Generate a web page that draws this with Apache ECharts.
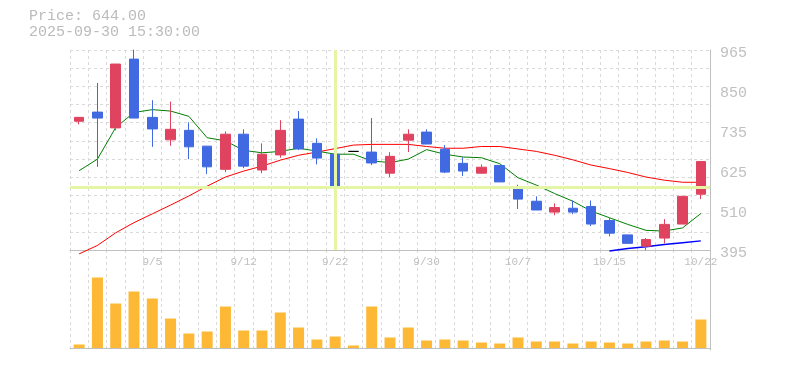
<!DOCTYPE html>
<html>
<head>
<meta charset="utf-8">
<script src="https://cdn.jsdelivr.net/npm/echarts@6/dist/echarts.min.js"></script>
<style>
html,body{margin:0;padding:0;background:#fff;}
#c{width:785px;height:370px;}
</style>
</head>
<body>
<div id="c"></div>
<script>
const categories = ['9/1','9/2','9/3','9/4','9/5','9/8','9/9','9/10','9/11','9/12','9/16','9/17','9/18','9/19','9/22','9/24','9/25','9/26','9/29','9/30','10/1','10/2','10/3','10/6','10/7','10/8','10/9','10/10','10/14','10/15','10/16','10/17','10/20','10/21','10/22'];
const opens  = [762,788,743,939,773,709,736,691,625,725,623,666,768,699,668,676,674,614,708,731,682,642,614,636,573,534,503,514,519,479,438,406,429,469,554];
const closes = [773,771,925,771,740,739,689,632,725,634,668,736,683,657,574,676,643,662,725,697,617,620,631,589,540,509,516,503,469,443,414,425,468,548,647];
const lows   = [753,632,736,771,689,692,654,612,617,628,614,658,680,639,566,676,637,603,674,697,614,606,612,589,512,509,494,497,463,434,414,394,414,469,540];
const highs  = [774,871,925,966,822,818,759,691,733,739,699,765,791,713,672,676,771,674,739,739,694,659,639,636,581,548,528,536,536,486,438,429,483,548,648];
const volumes = [35,705,445,565,495,295,145,165,415,175,175,355,205,85,115,25,415,105,205,75,85,75,55,45,105,65,65,45,65,55,45,65,75,65,285];
const ma5  = [621,654,744,787,795,791,776,715,706,679,672,676,685,677,668,668,649,644,654,681,668,660,658,641,601,580,556,534,506,487,468,451,449,458,499];
const ma25 = [384,408,444,473,498,523,549,577,603,620,634,651,665,674,684,694,696,696,696,690,685,685,690,690,683,676,665,652,637,627,616,603,594,588,588];
const ma75 = [null,null,null,null,null,null,null,null,null,null,null,null,null,null,null,null,null,null,null,null,null,null,null,null,null,null,null,null,null,392,399,404,411,416,421];
const yTickLabels = ['395','510','625','735','850','965'];
const priceMin = 395, priceMax = 965;
const cursorIndex = 14;
const headerPrice = 'Price: 644.00';
const headerDate = '2025-09-30 15:30:00';

const FONT = 'Liberation Mono';
const GRAY = '#c0c0c0';
const GRID_LINE = { show: true, lineStyle: { color: '#d9d9d9', type: [3, 3], width: 1 } };

const candleData = categories.map((c, i) => [opens[i], closes[i], lows[i], highs[i]]);

const chart = echarts.init(document.getElementById('c'), null, { renderer: 'canvas' });
chart.setOption({
  animation: false,
  backgroundColor: '#fff',
  title: {
    text: headerPrice + '\n' + headerDate,
    left: 29, top: 8, padding: 0,
    textStyle: { fontFamily: FONT, fontSize: 15, fontWeight: 'normal', color: '#bbbbbb', lineHeight: 16 }
  },
  grid: [
    { left: 70, top: 50, width: 640, height: 200 },
    { left: 70, top: 250, width: 640, height: 100 }
  ],
  xAxis: [
    {
      type: 'category', gridIndex: 0, data: categories, boundaryGap: true,
      axisLine: { show: true, lineStyle: { color: GRAY, width: 1 } },
      axisTick: { show: false },
      axisLabel: {
        interval: (i) => i % 5 === 4, color: GRAY, fontFamily: FONT, fontSize: 11, margin: 7,
        hideOverlap: false
      },
      splitLine: Object.assign({ interval: 0 }, GRID_LINE)
    },
    {
      type: 'category', gridIndex: 1, data: categories, boundaryGap: true,
      axisLine: { show: true, lineStyle: { color: GRAY, width: 1 } },
      axisTick: { show: false },
      axisLabel: { show: false },
      splitLine: Object.assign({ interval: 0 }, GRID_LINE)
    }
  ],
  yAxis: [
    {
      type: 'value', gridIndex: 0, min: priceMin, max: priceMax, position: 'right',
      axisLine: { show: true, lineStyle: { color: GRAY, width: 1 } },
      axisTick: { show: false }, axisLabel: { show: false }, splitLine: { show: false }
    },
    {
      type: 'value', gridIndex: 0, min: 0, max: 11, interval: 1, position: 'left',
      axisLine: { show: false }, axisTick: { show: false }, axisLabel: { show: false },
      splitLine: GRID_LINE
    },
    {
      type: 'value', gridIndex: 0, min: 0, max: yTickLabels.length - 1, interval: 1, position: 'right',
      axisLine: { show: false }, axisTick: { show: false }, splitLine: { show: false },
      axisLabel: {
        show: true, color: GRAY, fontFamily: FONT, fontSize: 15, margin: 10,
        verticalAlign: 'top', lineHeight: 6,
        formatter: (v) => yTickLabels[Math.round(v)]
      }
    },
    {
      type: 'value', gridIndex: 1, min: -20, max: 980, position: 'right',
      axisLine: { show: true, lineStyle: { color: GRAY, width: 1 } },
      axisTick: { show: false }, axisLabel: { show: false }, splitLine: { show: false }
    }
  ],
  series: [
    {
      type: 'line', xAxisIndex: 0, yAxisIndex: 0, z: 1,
      data: categories.map(() => null), symbol: 'none', silent: true,
      markLine: {
        silent: true, symbol: ['none', 'none'], animation: false,
        label: { show: false },
        lineStyle: { color: '#e5f5a6', width: 3, type: 'solid' },
        data: [{ xAxis: categories[cursorIndex] }, { yAxis: closes[cursorIndex] }]
      }
    },
    {
      type: 'line', xAxisIndex: 0, yAxisIndex: 0, data: ma25, symbol: 'none', clip: false, z: 3,
      lineStyle: { color: '#ff0000', width: 1 }
    },
    {
      type: 'line', xAxisIndex: 0, yAxisIndex: 0, data: ma75, symbol: 'none', clip: false, z: 3,
      lineStyle: { color: '#0000ff', width: 1.5 }
    },
    {
      type: 'line', xAxisIndex: 0, yAxisIndex: 0, data: ma5, symbol: 'none', clip: false, z: 3,
      lineStyle: { color: '#008000', width: 1 }
    },
    {
      type: 'candlestick', xAxisIndex: 0, yAxisIndex: 0, data: candleData, barWidth: 10, clip: false, z: 4,
      itemStyle: {
        color: '#e0435f', color0: '#4169e1',
        borderColor: '#e0435f', borderColor0: '#4169e1',
        borderColorDoji: '#000000', borderWidth: 1
      }
    },
    {
      type: 'bar', xAxisIndex: 1, yAxisIndex: 3, data: volumes, barWidth: 11,
      itemStyle: { color: '#fdb835' }
    }
  ]
});
</script>
</body>
</html>
